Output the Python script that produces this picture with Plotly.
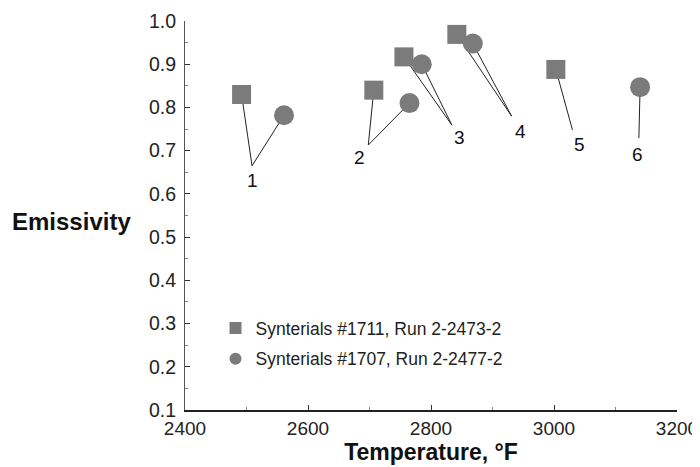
import plotly.graph_objects as go

# Synterials #1711, Run 2-2473-2 (squares)
sq_temp = [2492, 2707, 2756, 2842, 3003]
sq_emis = [0.83, 0.84, 0.917, 0.969, 0.888]
sq_run = [1, 2, 3, 4, 5]

# Synterials #1707, Run 2-2477-2 (circles)
ci_temp = [2561, 2765, 2785, 2868, 3140]
ci_emis = [0.782, 0.81, 0.90, 0.948, 0.847]
ci_run = [1, 2, 3, 4, 6]

# callout labels: where the leader lines meet and where the number sits
call_num = [1, 2, 3, 4, 5, 6]
join_temp = [2509, 2698, 2834, 2931, 3030, 3138]
join_emis = [0.665, 0.713, 0.759, 0.780, 0.748, 0.729]
lab_temp = [2510, 2683, 2846, 2946, 3041, 3135]
lab_emis = [0.632, 0.685, 0.731, 0.745, 0.715, 0.692]

GREY = "#7b7b7b"
FONT = "Liberation Sans, Arial, Helvetica, sans-serif"

fig = go.Figure()

# leader lines from each marker to its callout number
for temps, emis, runs in [(sq_temp, sq_emis, sq_run), (ci_temp, ci_emis, ci_run)]:
    for t, e, r in zip(temps, emis, runs):
        k = call_num.index(r)
        fig.add_trace(go.Scatter(
            x=[t, join_temp[k]], y=[e, join_emis[k]],
            mode="lines", line=dict(color="#222", width=1),
            showlegend=False, hoverinfo="skip",
        ))

fig.add_trace(go.Scatter(
    x=sq_temp, y=sq_emis, mode="markers",
    name="Synterials #1711, Run 2-2473-2", legendgroup="a",
    marker=dict(symbol="square", size=19, color=GREY),
))
fig.add_trace(go.Scatter(
    x=ci_temp, y=ci_emis, mode="markers",
    name="Synterials #1707, Run 2-2477-2", legendgroup="b",
    marker=dict(symbol="circle", size=20, color=GREY),
))

for n, t, e in zip(call_num, lab_temp, lab_emis):
    fig.add_annotation(x=t, y=e, text=str(n), showarrow=False,
                       font=dict(size=19, color="#111", family=FONT))

fig.add_annotation(xref="paper", yref="paper", x=-0.355, y=0.485,
                   xanchor="left", yanchor="middle", text="<b>Emissivity</b>",
                   showarrow=False,
                   font=dict(size=24, color="#111", family=FONT))

# the page body adds an 8 px margin, so the figure is made 8 px smaller
fig.update_layout(
    width=692, height=459,
    margin=dict(l=177, r=23, t=13, b=57),
    paper_bgcolor="white", plot_bgcolor="white",
    font=dict(family=FONT, size=19, color="#222"),
    showlegend=True,
    legend=dict(x=0.062, y=0.257, xanchor="left", yanchor="top",
                bgcolor="rgba(0,0,0,0)", font=dict(size=17.5, color="#222"),
                itemsizing="constant", tracegroupgap=5),
)
fig.update_xaxes(
    range=[2400, 3200], tickvals=[2400, 2600, 2800, 3000, 3200],
    ticks="inside", ticklen=5, tickcolor="#333",
    minor=dict(dtick=100, ticks="inside", ticklen=3, tickcolor="#888"),
    showline=True, linecolor="#222", linewidth=1.5, showgrid=False, zeroline=False,
    tickfont=dict(size=19), automargin=False,
    title=dict(text="<b>Temperature, °F</b>", font=dict(size=23, color="#111"), standoff=3),
)
fig.update_yaxes(
    range=[0.1, 1.0], dtick=0.1, tickformat=".1f",
    ticks="inside", ticklen=5, tickcolor="#333",
    minor=dict(dtick=0.05, ticks="inside", ticklen=3, tickcolor="#888"),
    showline=True, linecolor="#555", linewidth=1, showgrid=False, zeroline=False,
    tickfont=dict(size=19.5), automargin=False, ticklabelstandoff=4,
)

fig.write_html("out.html")
